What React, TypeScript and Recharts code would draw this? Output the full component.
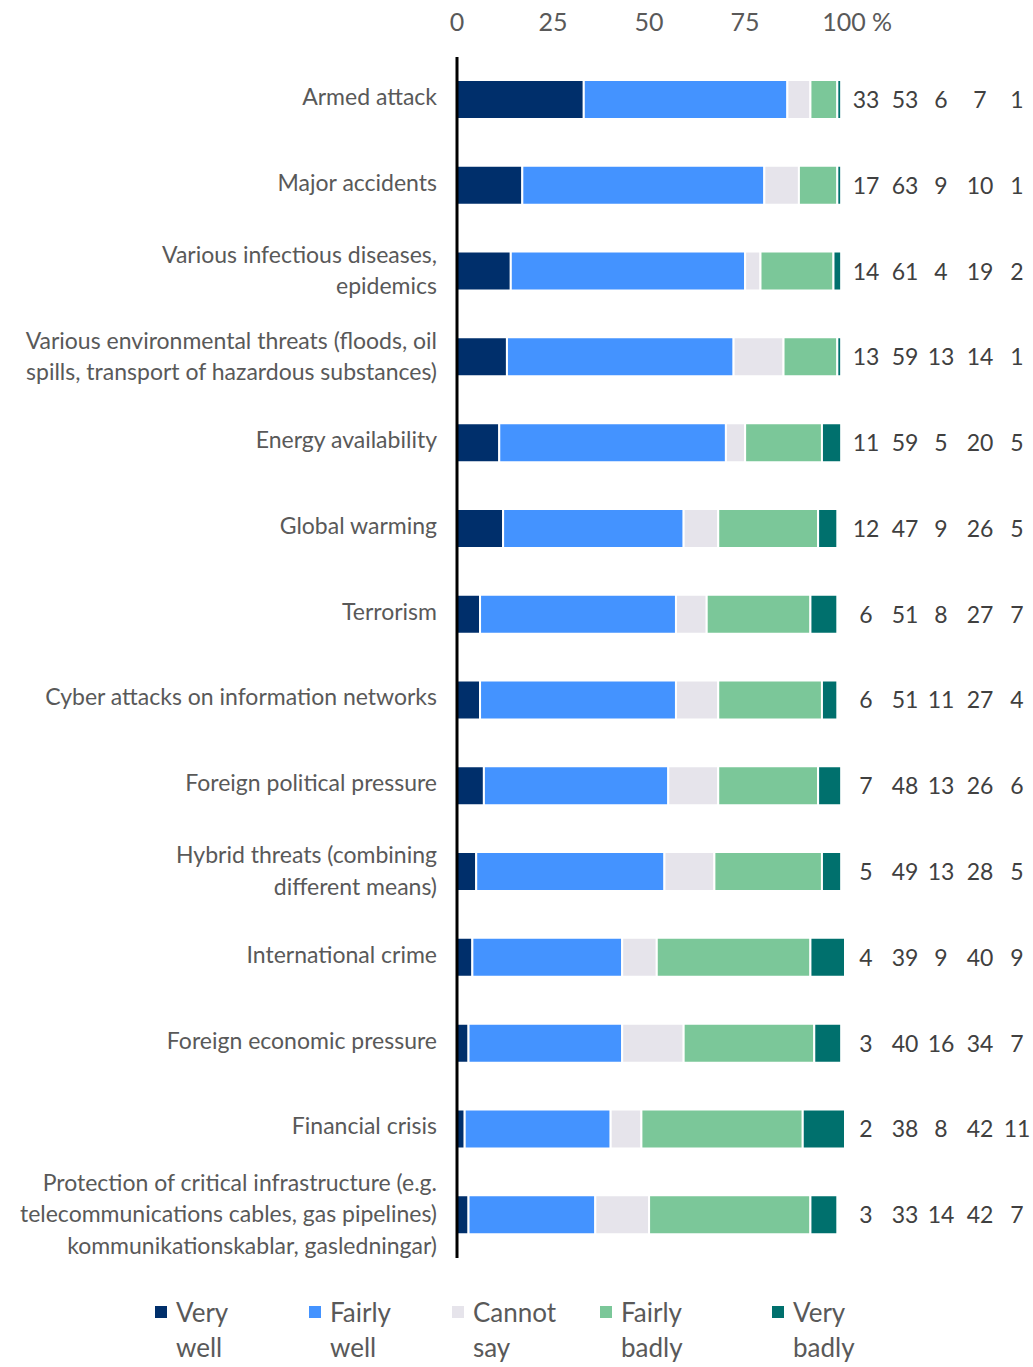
import React from 'react';
import { BarChart, Bar, XAxis, YAxis, Legend } from 'recharts';

const FONT = 'Lato, "Open Sans", sans-serif';

const categories = [
  'Armed attack',
  'Major accidents',
  'Various infectious diseases,\nepidemics',
  'Various environmental threats (floods, oil\nspills, transport of hazardous substances)',
  'Energy availability',
  'Global warming',
  'Terrorism',
  'Cyber attacks on information networks',
  'Foreign political pressure',
  'Hybrid threats (combining\ndifferent means)',
  'International crime',
  'Foreign economic pressure',
  'Financial crisis',
  'Protection of critical infrastructure (e.g.\ntelecommunications cables, gas pipelines)\nkommunikationskablar, gasledningar)',
];

const veryWell = [33, 17, 14, 13, 11, 12, 6, 6, 7, 5, 4, 3, 2, 3];
const fairlyWell = [53, 63, 61, 59, 59, 47, 51, 51, 48, 49, 39, 40, 38, 33];
const cannotSay = [6, 9, 4, 13, 5, 9, 8, 11, 13, 13, 9, 16, 8, 14];
const fairlyBadly = [7, 10, 19, 14, 20, 26, 27, 27, 26, 28, 40, 34, 42, 42];
const veryBadly = [1, 1, 2, 1, 5, 5, 7, 4, 6, 5, 9, 7, 11, 7];

const xTicks = [0, 25, 50, 75, 100];

const seriesKeys = ['veryWell', 'fairlyWell', 'cannotSay', 'fairlyBadly', 'veryBadly'];
const seriesNames = ['Very\nwell', 'Fairly\nwell', 'Cannot\nsay', 'Fairly\nbadly', 'Very\nbadly'];
const seriesColors = ['#002F6B', '#4493FF', '#E6E4EB', '#7BC799', '#00706D'];

const data = categories.map((name, i) => ({
  name,
  veryWell: veryWell[i],
  fairlyWell: fairlyWell[i],
  cannotSay: cannotSay[i],
  fairlyBadly: fairlyBadly[i],
  veryBadly: veryBadly[i],
}));

const valueColumnOffsets = [21, 60, 96, 135, 172];
const legendItemWidths = [154, 143, 148, 172, 100];

const CategoryTick = (props: any) => {
  const { x, y, payload } = props;
  const lines = String(payload.value).split('\n');
  const lh = 31.5;
  const shift = lines.length > 1 ? -1 : -3;
  const start = y - ((lines.length - 1) * lh) / 2 + shift;
  return (
    <text textAnchor="end" fill="#595959" fontSize={23} fontFamily={FONT}>
      {lines.map((l, i) => (
        <tspan key={i} x={x} y={start + i * lh} dy="0.35em">
          {l}
        </tspan>
      ))}
    </text>
  );
};

const ValuesTick = (props: any) => {
  const { x, y, index } = props;
  const row = data[index];
  if (!row) return null;
  return (
    <g>
      {seriesKeys.map((k, i) => (
        <text
          key={k}
          x={x + valueColumnOffsets[i]}
          y={y}
          dy="0.35em"
          textAnchor="middle"
          fill="#404040"
          fontSize={23}
          fontFamily={FONT}
        >
          {(row as any)[k]}
        </text>
      ))}
    </g>
  );
};

const TopTick = (props: any) => {
  const { x, y, payload } = props;
  const v = payload.value;
  if (v === 100) {
    return (
      <text x={x - 19} y={y - 35} dy="0.35em" textAnchor="start" fill="#595959" fontSize={25} fontFamily={FONT}>
        100 %
      </text>
    );
  }
  return (
    <text x={x} y={y - 35} dy="0.35em" textAnchor="middle" fill="#595959" fontSize={25} fontFamily={FONT}>
      {v}
    </text>
  );
};

const LegendContent = () => (
  <div style={{ display: 'flex', paddingLeft: 155, paddingTop: 37, fontFamily: FONT, fontSize: 26, color: '#595959' }}>
    {seriesNames.map((n, i) => {
      const lines = n.split('\n');
      return (
        <div key={n + i} style={{ width: legendItemWidths[i], display: 'flex', alignItems: 'flex-start' }}>
          <div style={{ width: 12, height: 12, background: seriesColors[i], marginTop: 11, marginRight: 9, flexShrink: 0 }} />
          <div style={{ lineHeight: '35px' }}>
            {lines.map((l, j) => (
              <div key={j}>{l}</div>
            ))}
          </div>
        </div>
      );
    })}
  </div>
);

export default function App() {
  return (
    <div style={{ position: 'absolute', left: 0, top: 0, background: '#fff' }}>
      <BarChart
        width={1033}
        height={1367}
        data={data}
        layout="vertical"
        margin={{ top: 0, right: 0, bottom: 0, left: 0 }}
        barCategoryGap={0}
      >
        <XAxis
          type="number"
          orientation="top"
          domain={[0, 101]}
          ticks={xTicks}
          height={57}
          axisLine={false}
          tickLine={false}
          tickSize={0}
          tickMargin={0}
          tick={<TopTick />}
          interval={0}
        />
        <YAxis
          yAxisId="left"
          type="category"
          dataKey="name"
          width={457}
          axisLine={{ stroke: '#000', strokeWidth: 3 }}
          tickLine={false}
          tickSize={0}
          tickMargin={20}
          tick={<CategoryTick />}
          interval={0}
        />
        <YAxis
          yAxisId="right"
          orientation="right"
          type="category"
          dataKey="name"
          width={188}
          axisLine={false}
          tickLine={false}
          tickSize={0}
          tickMargin={0}
          tick={<ValuesTick />}
          interval={0}
        />
        <Legend verticalAlign="bottom" height={109} content={<LegendContent />} />
        {seriesKeys.map((k, i) => (
          <Bar
            key={k}
            yAxisId="left"
            dataKey={k}
            name={seriesNames[i]}
            stackId="a"
            fill={seriesColors[i]}
            stroke="#fff"
            strokeWidth={2}
            barSize={39}
            isAnimationActive={false}
          />
        ))}
      </BarChart>
    </div>
  );
}
